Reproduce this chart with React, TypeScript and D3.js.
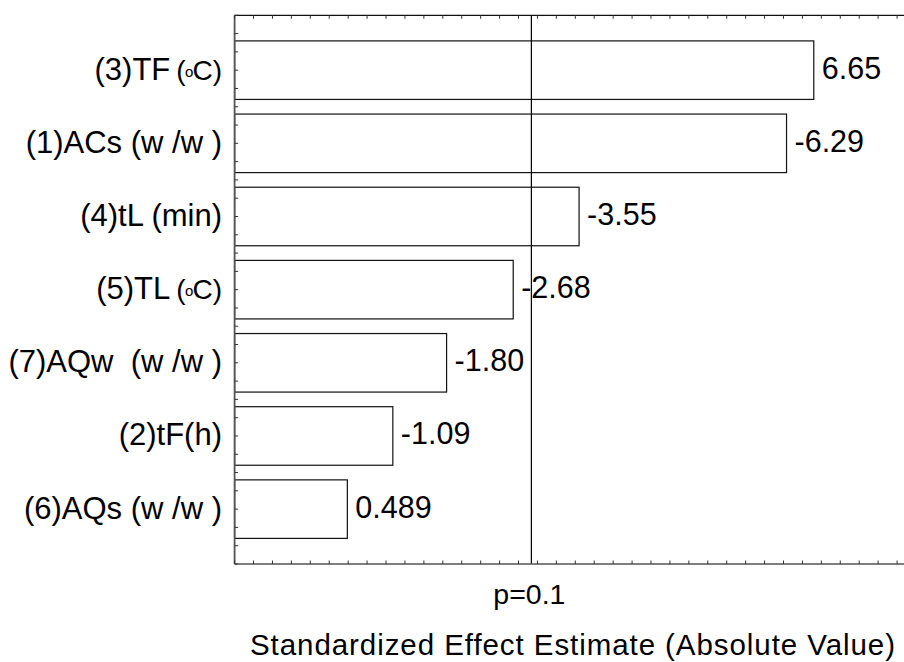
import React from "react";
import * as d3 from "d3";

// Pareto chart of standardized effects
const factors = [
  "(3)TF",
  "(1)ACs (w /w )",
  "(4)tL (min)",
  "(5)TL",
  "(7)AQw  (w /w )",
  "(2)tF(h)",
  "(6)AQs (w /w )",
];
// factors whose label carries a temperature unit
const tempUnit = [true, false, false, true, false, false, false];
const effects = [6.65, -6.29, -3.55, -2.68, -1.8, -1.09, 0.489];
const pCritical = 2.92;
const pLabel = "p=0.1";
const xTitle = "Standardized Effect Estimate (Absolute Value)";

const W = 904;
const H = 662;
const FONT = "'Liberation Sans', Arial, sans-serif";

const fmt = d3
  .formatLocale({ decimal: ".", thousands: ",", grouping: [3], currency: ["", ""], minus: "-" })
  .format(".3r");

export default function App() {
  const left = 234.6;
  const top = 15.3;
  const bottom = 564;
  const unit = 75.71;

  const x = d3.scaleLinear().domain([-1, 8]).range([left, left + 9 * unit]);
  const y = d3.scaleLinear().domain([0.25, 7.75]).range([top, bottom]);

  const xTicks = d3.range(-1, 8.001, 0.25);
  const yTicks = d3.range(0.25, 7.751, 0.25);
  const barH = y(0.8) - y(0);

  return (
    <svg
      width={W}
      height={H}
      style={{ position: "fixed", left: 0, top: 0, background: "#fff" }}
      fontFamily={FONT}
    >
      <rect width={W} height={H} fill="#fff" />

      {/* bars */}
      {effects.map((v, i) => {
        const cy = y(i + 1);
        return (
          <g key={i}>
            <rect
              x={left}
              y={cy - barH / 2}
              width={x(Math.abs(v)) - left}
              height={barH}
              fill="#fff"
              stroke="#111"
              strokeWidth={1.2}
            />
            <text x={x(Math.abs(v)) + 8} y={cy + 8.5} fontSize={30.5} fill="#000">
              {fmt(v)}
            </text>
          </g>
        );
      })}

      {/* critical value line */}
      <line x1={x(pCritical)} x2={x(pCritical)} y1={top} y2={bottom} stroke="#000" strokeWidth={1.2} />

      {/* frame */}
      <line x1={left} x2={W} y1={top} y2={top} stroke="#111" strokeWidth={1.3} />
      <line x1={left} x2={W} y1={bottom} y2={bottom} stroke="#555" strokeWidth={1.6} />
      <line x1={left} x2={left} y1={top} y2={bottom} stroke="#555" strokeWidth={1.8} />

      {/* x ticks, inside on both bottom and top */}
      {xTicks.map((t, i) => (
        <g key={"xt" + i}>
          <line x1={x(t)} x2={x(t)} y1={bottom} y2={bottom - 3.5} stroke="#333" strokeWidth={1} />
          <line x1={x(t)} x2={x(t)} y1={top} y2={top + 3.5} stroke="#333" strokeWidth={1} />
        </g>
      ))}
      {/* y ticks */}
      {yTicks.map((t, i) => (
        <line key={"yt" + i} x1={left} x2={left + 3.5} y1={y(t)} y2={y(t)} stroke="#333" strokeWidth={1} />
      ))}

      {/* factor labels */}
      {factors.map((f, i) => (
        <text
          key={"f" + i}
          x={222}
          y={y(i + 1) + 9.5}
          fontSize={31}
          textAnchor="end"
          fill="#000"
          style={{ whiteSpace: "pre" }}
        >
          {f}
          {tempUnit[i] ? (
            <>
              <tspan dx={6} fontSize={28}>(</tspan>
              <tspan fontSize={15} dx={-0.5} dy={-3}>o</tspan>
              <tspan fontSize={28} dx={-1} dy={3}>C)</tspan>
            </>
          ) : null}
        </text>
      ))}

      {/* axis labels */}
      <text x={x(pCritical) - 2} y={603.7} fontSize={28.5} textAnchor="middle" fill="#000">
        {pLabel}
      </text>
      <text x={250} y={655} fontSize={29.5} textLength={645} lengthAdjust="spacing" fill="#000">
        {xTitle}
      </text>
    </svg>
  );
}
